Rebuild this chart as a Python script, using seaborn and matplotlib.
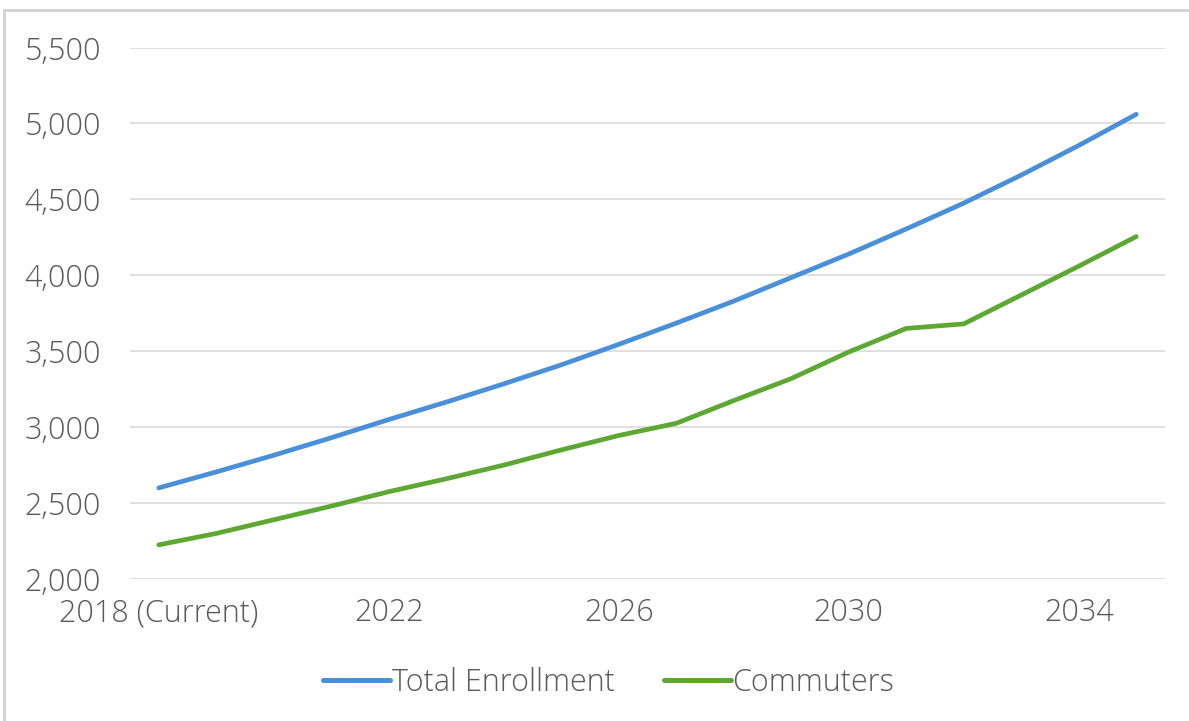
import matplotlib
matplotlib.use("Agg")
import matplotlib.pyplot as plt
import seaborn as sns
import pandas as pd
from matplotlib.lines import Line2D
from matplotlib.ticker import FuncFormatter

years = [2018, 2019, 2020, 2021, 2022, 2023, 2024, 2025, 2026,
         2027, 2028, 2029, 2030, 2031, 2032, 2033, 2034, 2035]
tick_labels = ["2018 (Current)", "2022", "2026", "2030", "2034"]
total_enrollment = [2600, 2705, 2815, 2930, 3050, 3165, 3285, 3410, 3545,
                    3685, 3830, 3985, 4140, 4305, 4475, 4660, 4855, 5060]
commuters = [2225, 2300, 2390, 2480, 2575, 2660, 2750, 2850, 2945,
             3025, 3175, 3320, 3495, 3650, 3680, 3870, 4060, 4255]
series_names = ["Total Enrollment", "Commuters"]
colors = ["#4A90D9", "#5DA832"]

sns.set_theme(style="white")
plt.rcParams["font.family"] = ["Open Sans", "DejaVu Sans"]
plt.rcParams["font.weight"] = "light"

df = pd.DataFrame({
    "idx": list(range(len(years))) * 2,
    "value": total_enrollment + commuters,
    "series": [series_names[0]] * len(years) + [series_names[1]] * len(years),
})

fig = plt.figure(figsize=(11.89, 7.21), dpi=100)
ax = fig.add_axes([130 / 1189, 1 - 579 / 721, (1165 - 130) / 1189, (579 - 47.5) / 721])

sns.lineplot(data=df, x="idx", y="value", hue="series", palette=colors,
             linewidth=3.4, ax=ax, legend=False)

ax.set_xlim(-0.5, len(years) - 0.5)
ax.set_ylim(2000, 5500)
ax.set_yticks(range(2000, 5501, 500))
ax.yaxis.set_major_formatter(FuncFormatter(lambda v, p: f"{int(v):,}"))
ax.set_xticks([0, 4, 8, 12, 16])
ax.set_xticklabels(tick_labels)
ax.grid(axis="y", color="#d9d9d9", linewidth=1.2)
ax.set_axisbelow(True)
for s in ax.spines.values():
    s.set_visible(False)
ax.set_xlabel("")
ax.set_ylabel("")
ax.tick_params(axis="both", length=0, labelsize=22, colors="#595959")
ax.tick_params(axis="y", pad=21)
ax.tick_params(axis="x", pad=13)

handles = [Line2D([0], [0], color=c, linewidth=3.6) for c in colors]
leg = fig.legend(handles, series_names, loc="center", bbox_to_anchor=(0.512, 1 - 683 / 721),
                 ncol=2, frameon=False, fontsize=22, handlelength=2.2,
                 handletextpad=0.05, columnspacing=1.6)
for t in leg.get_texts():
    t.set_color("#595959")

# outer chart border
fig.add_artist(Line2D([4 / 1189, 1], [1 - 10 / 721, 1 - 10 / 721], color="#d0d0d0", linewidth=2))
fig.add_artist(Line2D([4 / 1189, 4 / 1189], [0, 1 - 10 / 721], color="#d0d0d0", linewidth=2))

fig.savefig("out.png", dpi=100, facecolor="white")
